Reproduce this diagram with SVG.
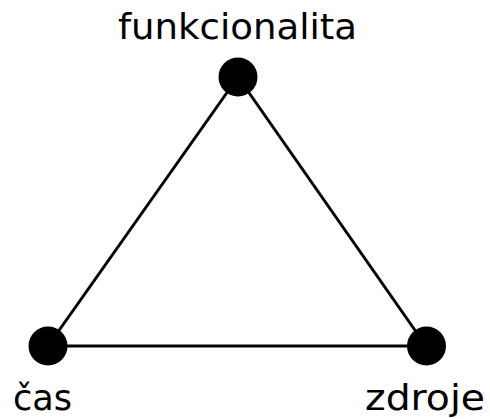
<svg xmlns="http://www.w3.org/2000/svg" width="490" height="419" viewBox="0 0 490 419">
<style>
.edge{stroke:#000;stroke-width:3;fill:none}
.node{fill:#000}
.lbl{font-family:"DejaVu Sans",Verdana,sans-serif;font-size:36px;fill:#000;text-anchor:middle}
</style>
<rect width="490" height="419" fill="#fff"/>
<g id="connectors">
<line class="edge" x1="238" y1="77" x2="48" y2="346"/>
<line class="edge" x1="238" y1="77" x2="426" y2="346"/>
<line class="edge" x1="48" y1="346" x2="426" y2="346"/>
</g>
<g id="funkcionalita">
<circle class="node" cx="238" cy="77" r="19.5"/>
<text class="lbl" x="237.5" y="39" textLength="239" lengthAdjust="spacingAndGlyphs">funkcionalita</text>
</g>
<g id="cas">
<circle class="node" cx="48" cy="346" r="19.5"/>
<text class="lbl" x="42.5" y="410" textLength="59" lengthAdjust="spacingAndGlyphs">čas</text>
</g>
<g id="zdroje">
<circle class="node" cx="426.5" cy="346" r="19.5"/>
<text class="lbl" x="425" y="410" textLength="120" lengthAdjust="spacingAndGlyphs">zdroje</text>
</g>
</svg>
